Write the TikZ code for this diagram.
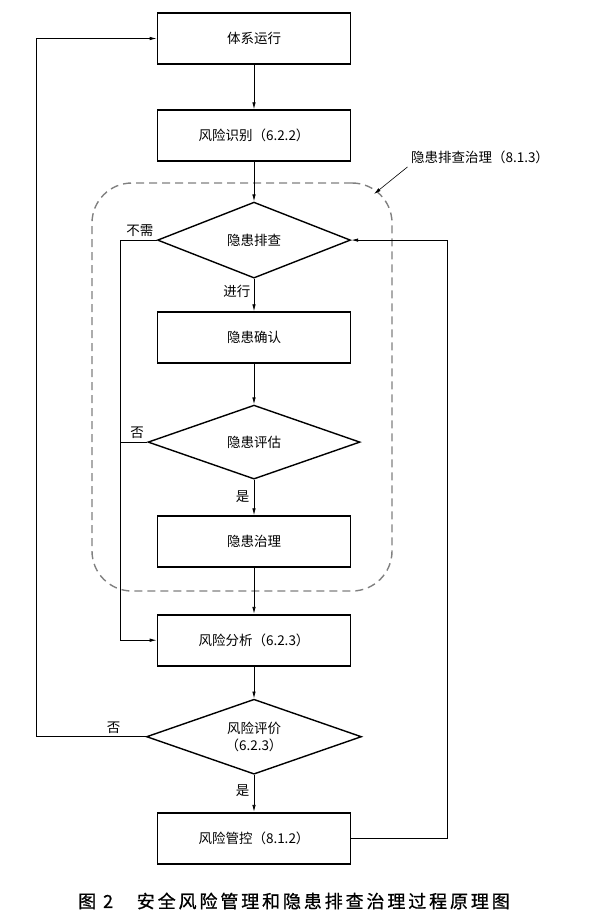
\documentclass[tikz,border=0pt]{standalone}
\usepackage{fontspec}
\newfontfamily\cjk{Noto Sans CJK SC}
\newfontfamily\capfont[LetterSpace=16,FakeBold=0.8]{Noto Sans CJK SC}
\usepackage{xcolor}
\usepackage{tikz}
\usetikzlibrary{shapes,shapes.geometric,positioning,arrows.meta}
\definecolor{zonegray}{gray}{0.5}

\begin{document}
\begin{tikzpicture}[x=1pt,y=-1pt,
    box/.style={draw, rectangle, line width=1.6pt, minimum width=193pt, minimum height=51pt, font=\cjk\fontsize{13.5}{16}\selectfont},
    dec/.style={draw, diamond, aspect=2.5, line width=1.4pt, inner sep=1pt, align=center, font=\cjk\fontsize{13.5}{17}\selectfont},
    arr/.style={-{Latex[length=7pt,width=3.5pt]}, line width=0.8pt},
    link/.style={line width=0.8pt},
    lbl/.style={font=\cjk\fontsize{13.5}{16}\selectfont}]
    \useasboundingbox (0,0) rectangle (591,923);

    % main chain of steps
    \node [box] (run) at (254,38.5) {体系运行};
    \node [box, below=44.5pt of run] (ident) {风险识别（6.2.2）};
    \node [dec, minimum width=193pt, minimum height=76pt, below=39.5pt of ident] (check) {隐患排查};
    \node [box, below=32.5pt of check] (confirm) {隐患确认};
    \node [dec, minimum width=212pt, minimum height=74pt, below=40.5pt of confirm] (assess) {隐患评估};
    \node [box, below=35.5pt of assess] (treat) {隐患治理};
    \node [box, below=46pt of treat] (analyse) {风险分析（6.2.3）};
    \node [dec, minimum width=215pt, minimum height=75pt, below=32pt of analyse] (evaluate) {风险评价\\（6.2.3）};
    \node [box, below=37pt of evaluate] (control) {风险管控（8.1.2）};

    % dashed zone and its label
    \node [draw=zonegray, line width=1.4pt, dash pattern=on 8pt off 5pt, rounded corners=40pt,
           minimum width=300pt, minimum height=408pt] (zone) at (242,387) {};
    \node [lbl] (zonelbl) at (480,157) {隐患排查治理（8.1.3）};
    \coordinate (hook) at (374,194);
    \draw [arr, line width=0.6pt] (zonelbl.south west) -- (hook);

    % bus lines
    \coordinate (leftbus) at (120,0);
    \coordinate (farleft) at (36,0);
    \coordinate (rightbus) at (447,0);

    % Connections
    \draw [arr] (run) -- (ident);
    \draw [arr] (ident) -- (check);
    \draw [arr] (check) -- (confirm);
    \draw [arr] (confirm) -- (assess);
    \draw [arr] (assess) -- (treat);
    \draw [arr] (treat) -- (analyse);
    \draw [arr] (analyse) -- (evaluate);
    \draw [arr] (evaluate) -- (control);
    \draw [arr] (check.west) -- (check.west -| leftbus) |- (analyse.west);
    \draw [link] (assess.west) -- (assess.west -| leftbus);
    \draw [arr] (evaluate.west) -- (evaluate.west -| farleft) |- (run.west);
    \draw [arr] (control.east) -- (control.east -| rightbus) |- (check.east);

    % branch labels
    \node [lbl, above left=0pt and 0pt of check.west] (notneed) {不需};
    \node [lbl, below left=3pt and 0pt of check.south] (go) {进行};
    \node [lbl, above left=0pt and 0pt of assess.west] (no1) {否};
    \node [lbl, below left=7pt and 1pt of assess.south] (yes1) {是};
    \node [lbl, above left=0pt and 22pt of evaluate.west] (no2) {否};
    \node [lbl, below left=6pt and 1pt of evaluate.south] (yes2) {是};

    % caption
    \node [font=\capfont\fontsize{18}{20}\selectfont] (caption) at (294,901) {图 2　安全风险管理和隐患排查治理过程原理图};
\end{tikzpicture}
\end{document}
